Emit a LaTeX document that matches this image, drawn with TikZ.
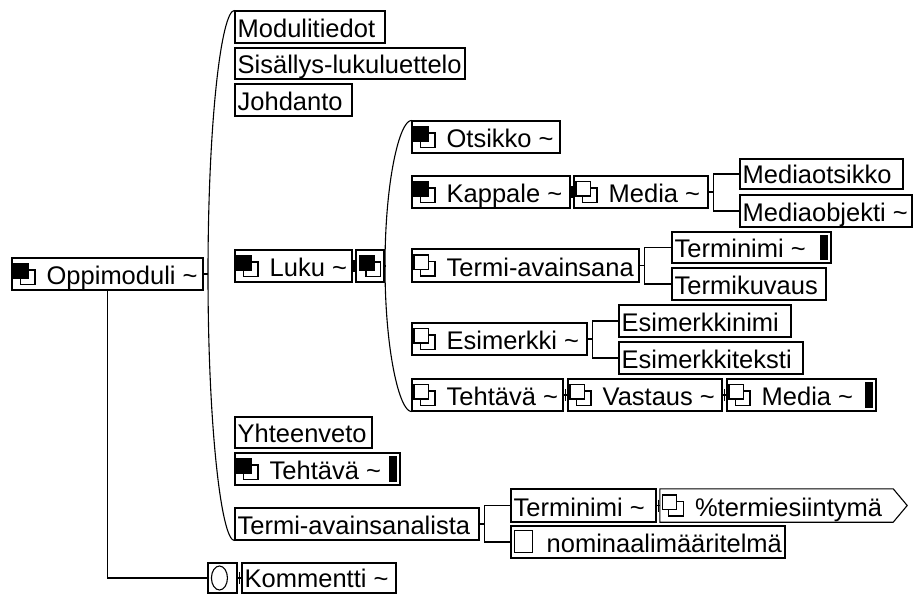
\documentclass[tikz,border=0pt]{standalone}
\usepackage{fontspec}
\setmainfont{Liberation Sans}
\usetikzlibrary{fit,calc}
\tikzset{
  bx/.style={draw, line width=1.1pt, inner sep=0pt, rectangle},
  ghost/.style={inner sep=0pt, rectangle},
  txt/.style={inner sep=0pt, anchor=base west, font=\fontsize{25.5}{30}\selectfont},
  ln/.style={line width=1.1pt},
  iconF/.pic={\draw[line width=1.1pt, fill=white] (-4,-4) rectangle (10.5,10.5);
              \draw[line width=1.1pt, fill=black] (-10.5,-10.5) rectangle (4,4);},
  iconO/.pic={\draw[line width=1.1pt, fill=white] (-4,-4) rectangle (10.5,10.5);
              \draw[line width=1.1pt, fill=white] (-10.5,-10.5) rectangle (4,4);},
}
\newcommand\mkbox[5]{\node[bx, fit={(#2,#3) (#4,#5)}] (#1) {};}
\newcommand\mktext[3]{\node[txt] (#1t) at ([xshift=#2pt, yshift=6pt]#1.south west) {#3};}
\newcommand\mkbar[1]{\fill ([xshift=-12pt,yshift=-4pt]#1.north east) rectangle ([xshift=-4pt,yshift=4pt]#1.south east);}
\newcommand\mktick[2]{\draw[ln] (#1.east) -- (#2.west);
  \path (#1.east) -- (#2.west) coordinate[midway] (tk#1);
  \draw[ln] ([yshift=6pt]tk#1) -- ([yshift=-6pt]tk#1);}
\newcommand\mkfork[3]{\coordinate (#1f) at ([xshift=5pt]#1.east);
  \draw[ln] (#1.east) -- (#1f);
  \draw[ln] (#2.west) -| (#1f) |- (#3.west);}
\begin{document}
\begin{tikzpicture}[x=1pt,y=-1pt]
\useasboundingbox (0,0) rectangle (913,594);
% root
\mkbox{opp}{12}{258}{203}{290}
\pic at ([xshift=13pt]opp.west) {iconF};
\mktext{opp}{35}{Oppimoduli \textasciitilde}
% first level
\mkbox{mod}{235}{11}{385}{43}   \mktext{mod}{3}{Modulitiedot}
\mkbox{sis}{235}{48}{465}{79}   \mktext{sis}{3}{Sisällys-lukuluettelo}
\mkbox{joh}{235}{84}{352}{116}  \mktext{joh}{3}{Johdanto}
\mkbox{luku}{235}{250}{352}{282}
\pic at ([xshift=13pt]luku.west) {iconF};
\mktext{luku}{35}{Luku \textasciitilde}
\mkbox{seq}{356}{250}{384}{282}
\pic at (seq.center) {iconF};
\mkbox{yht}{235}{417}{372}{448} \mktext{yht}{3}{Yhteenveto}
\mkbox{teh}{235}{453}{400}{485}
\pic at ([xshift=13pt]teh.west) {iconF};
\mktext{teh}{35}{Tehtävä \textasciitilde}
\mkbar{teh}
\mkbox{tal}{235}{508}{479}{540} \mktext{tal}{3}{Termi-avainsanalista}
% big brace
\coordinate (bigm) at (208,274);
\draw[ln] (mod.north west) .. controls +(-13,0) and +(0,-154) .. (bigm)
          .. controls +(0,154) and +(-13,0) .. (tal.south west);
\draw[ln] (opp.east) -- (bigm);
\mktick{luku}{seq}
% second level
\mkbox{ots}{412}{121}{560}{153}
\pic at ([xshift=13pt]ots.west) {iconF};
\mktext{ots}{35}{Otsikko \textasciitilde}
\mkbox{kap}{412}{176}{570}{208}
\pic at ([xshift=13pt]kap.west) {iconF};
\mktext{kap}{35}{Kappale \textasciitilde}
\mkbox{med}{574}{176}{708}{208}
\pic at ([xshift=13pt]med.west) {iconO};
\mktext{med}{35}{Media \textasciitilde}
\mkbox{mot}{740}{159}{903}{189} \mktext{mot}{3}{Mediaotsikko}
\mkbox{mob}{740}{195}{912}{227} \mktext{mob}{3}{Mediaobjekti \textasciitilde}
\mkbox{tav}{412}{249}{639}{282}
\pic at ([xshift=13pt]tav.west) {iconO};
\mktext{tav}{35}{Termi-avainsana}
\mkbox{tn}{672}{232}{831}{263} \mktext{tn}{3}{Terminimi \textasciitilde}
\mkbar{tn}
\mkbox{tk}{672}{268}{826}{300} \mktext{tk}{3}{Termikuvaus}
\mkbox{esi}{412}{323}{587}{355}
\pic at ([xshift=13pt]esi.west) {iconO};
\mktext{esi}{35}{Esimerkki \textasciitilde}
\mkbox{en}{619}{305}{791}{337} \mktext{en}{3}{Esimerkkinimi}
\mkbox{et}{619}{342}{803}{374} \mktext{et}{3}{Esimerkkiteksti}
\mkbox{th}{412}{379}{563}{411}
\pic at ([xshift=13pt]th.west) {iconO};
\mktext{th}{35}{Tehtävä \textasciitilde}
\mkbox{vas}{568}{379}{722}{411}
\pic at ([xshift=13pt]vas.west) {iconO};
\mktext{vas}{35}{Vastaus \textasciitilde}
\mkbox{md}{727}{379}{876}{411}
\pic at ([xshift=13pt]md.west) {iconO};
\mktext{md}{35}{Media \textasciitilde}
\mkbar{md}
% inner brace
\coordinate (inm) at (385,266);
\draw[ln] (ots.north west) .. controls +(-12,0) and +(0,-85) .. (inm)
          .. controls +(0,85) and +(-12,0) .. (th.south west);
\draw[ln] (seq.east) -- (inm);
\mktick{kap}{med}
\mkfork{med}{mot}{mob}
\mkfork{tav}{tn}{tk}
\mkfork{esi}{en}{et}
\mktick{th}{vas}
\mktick{vas}{md}
% term list
\mkbox{tn2}{511}{489}{656}{522} \mktext{tn2}{3}{Terminimi \textasciitilde}
\node[ghost, fit={(660,489) (907,522)}] (pct) {};
\draw[ln] (pct.north west) -- ([xshift=-14pt]pct.north east) -- (pct.east)
          -- ([xshift=-14pt]pct.south east) -- (pct.south west) -- cycle;
\pic at ([xshift=13pt]pct.west) {iconO};
\mktext{pct}{35}{\%termiesiintymä}
\mkbox{nom}{511}{526}{785}{558}
\draw[line width=1.1pt] ([xshift=4pt,yshift=-5pt]nom.north west) rectangle ([xshift=22pt,yshift=6pt]nom.south west);
\mktext{nom}{36}{nominaalimääritelmä}
\mkfork{tal}{tn2}{nom}
\mktick{tn2}{pct}
% comment
\mkbox{kc}{208}{563}{237}{593}
\draw[line width=1.1pt] ([xshift=12pt]kc.west) ellipse [x radius=8pt, y radius=12pt];
\mkbox{kom}{242}{563}{396}{593} \mktext{kom}{3}{Kommentti \textasciitilde}
\draw[ln] (opp.south) |- (kc.west);
\mktick{kc}{kom}
\end{tikzpicture}
\end{document}
